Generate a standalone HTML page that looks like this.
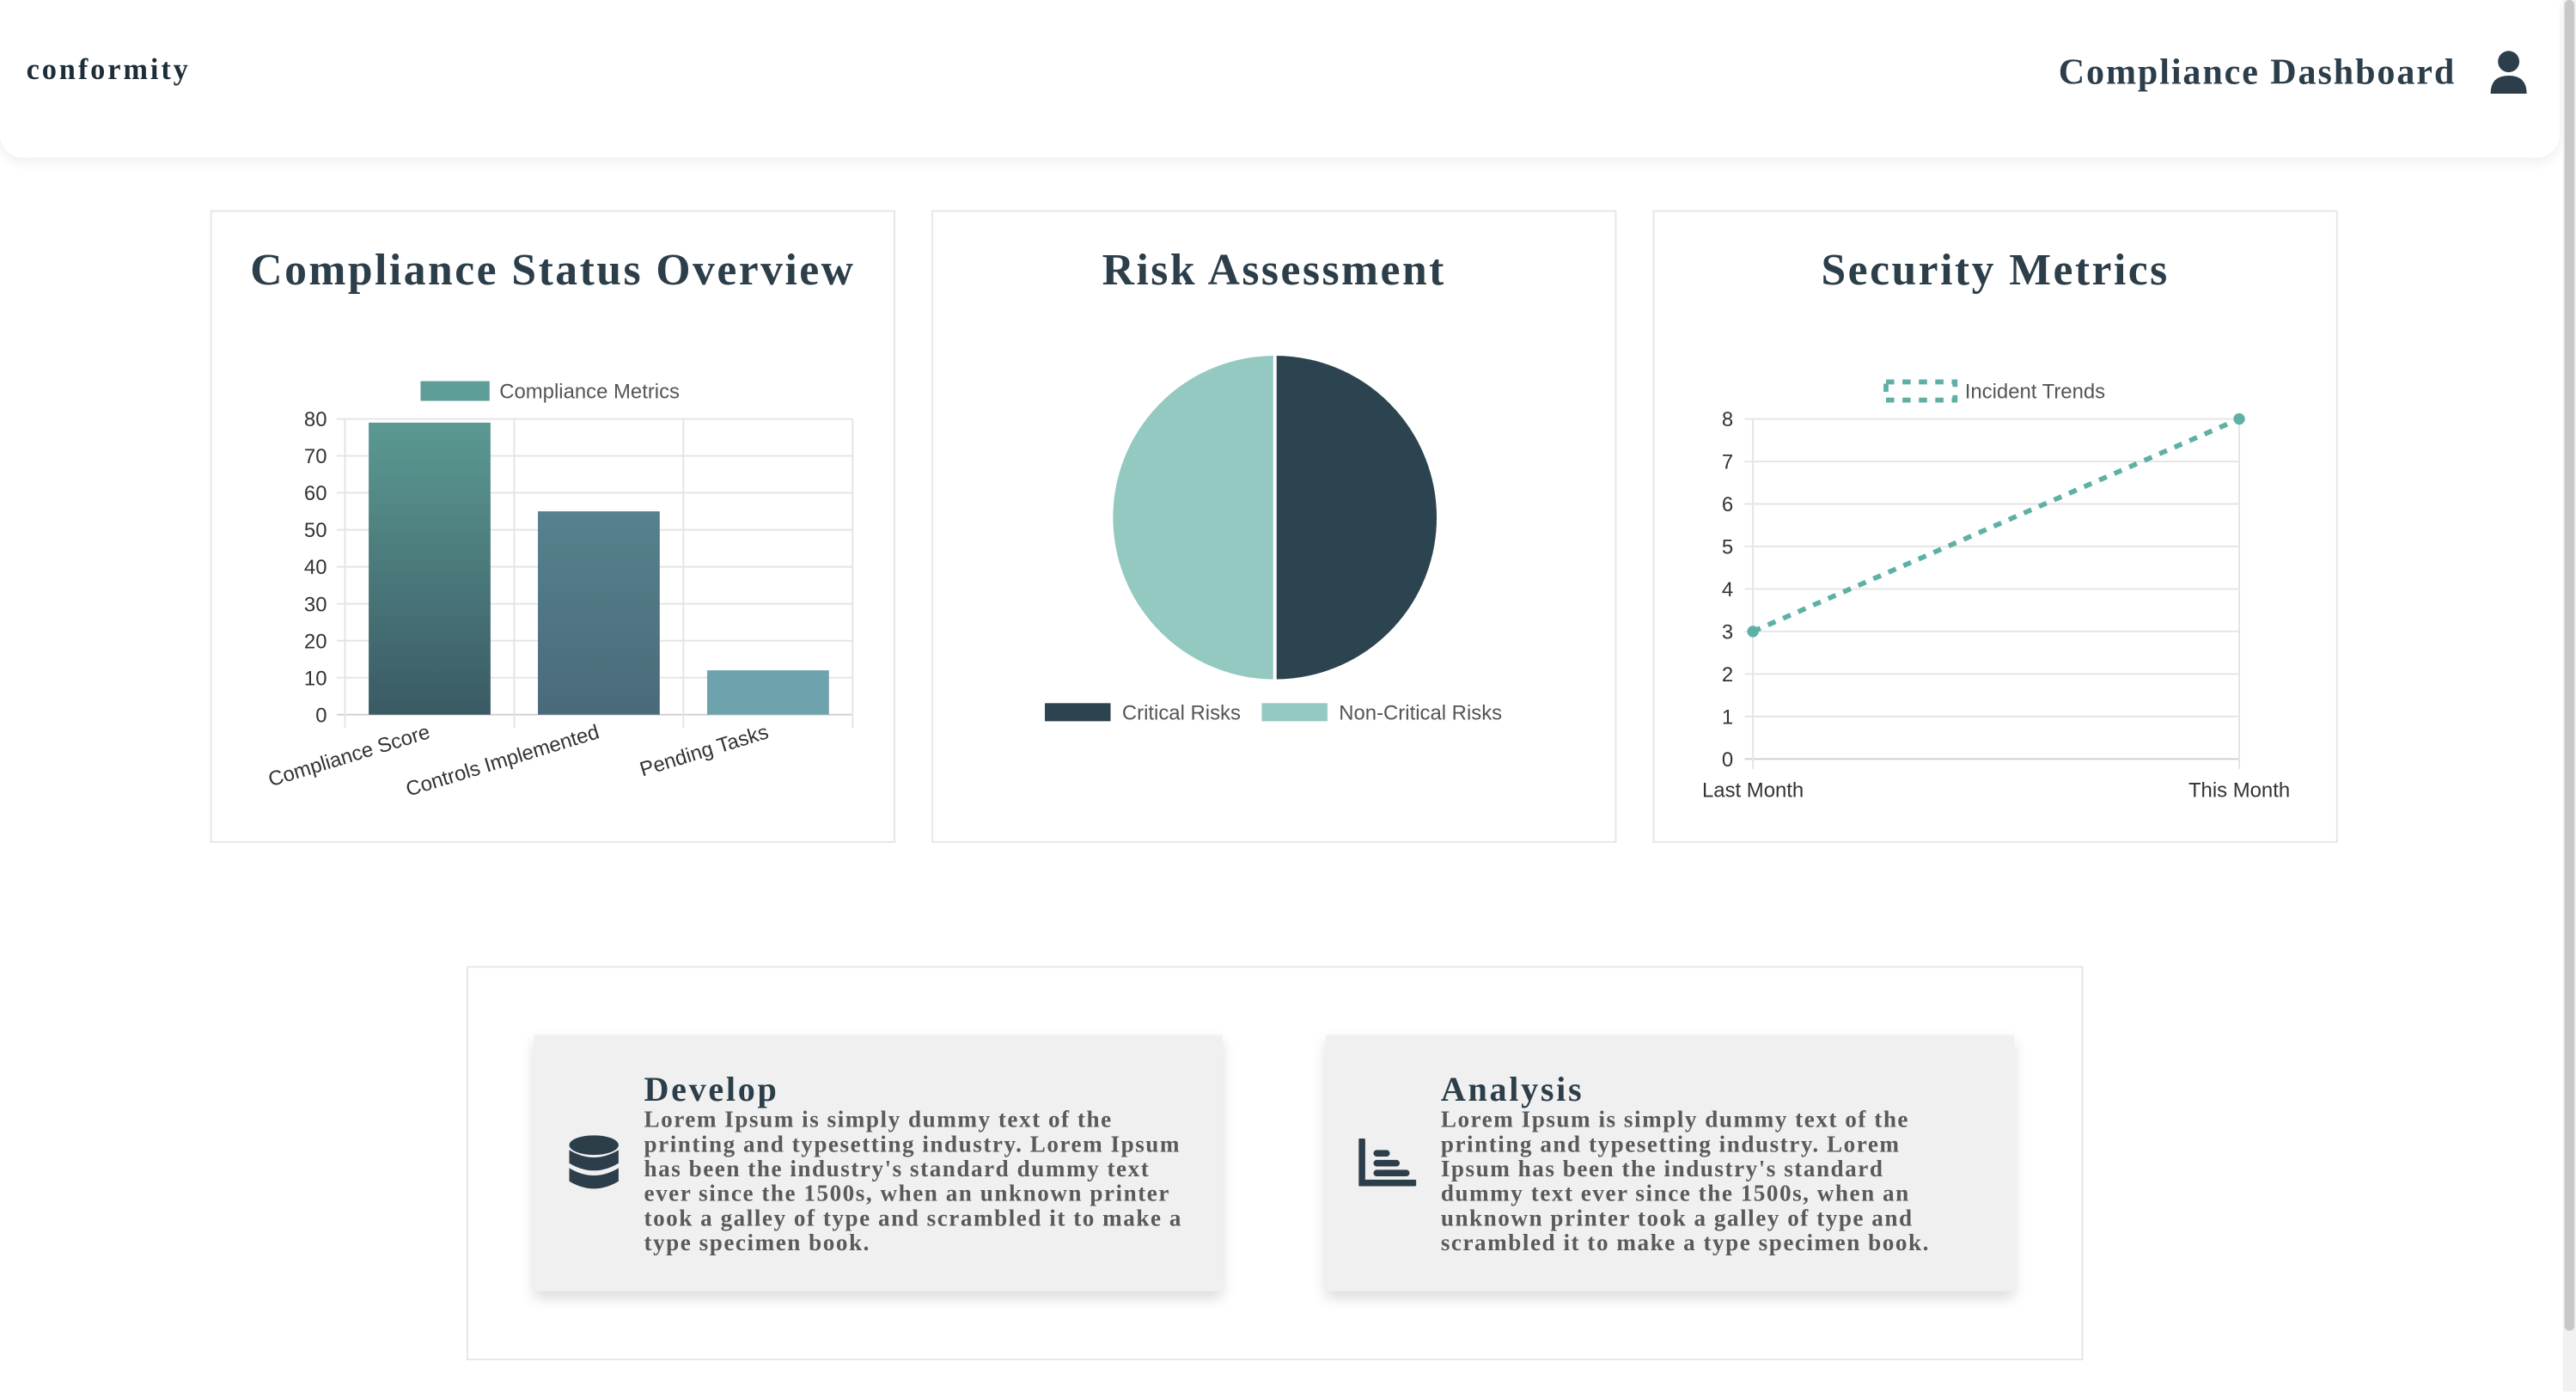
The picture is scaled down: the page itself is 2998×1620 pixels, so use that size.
<!DOCTYPE html>
<html><head><meta charset="utf-8">
<style>
html,body{margin:0;padding:0;background:#fff;overflow:hidden;}
body{width:2998px;height:1620px;position:relative;}
#root{position:absolute;left:0;top:0;width:1568px;height:847px;transform:scale(1.912);transform-origin:0 0;font-family:"Liberation Sans",sans-serif;}
.serif{font-family:"Liberation Serif",serif;font-weight:bold;}
#header{position:absolute;left:0;top:0;width:1558px;height:96px;background:#fff;border-radius:0 0 14px 14px;box-shadow:0 2px 8px rgba(0,0,0,0.08);}
.card{position:absolute;top:128px;width:417px;height:385px;border:1px solid #e6e6e6;box-sizing:border-box;background:#fff;}
.card h2{margin:0;position:absolute;left:-20px;right:-20px;text-align:center;font-size:27px;color:#2c3e4a;white-space:nowrap;top:20px;letter-spacing:1.3px;}
.scroll{position:absolute;left:1560px;top:0;width:8px;height:847px;background:#f1f1f1;}
.scroll div{position:absolute;left:1px;top:0;width:6px;height:810px;background:#c8c8c8;border-radius:3px;}
.feat{position:absolute;top:630px;width:419px;height:156px;background:#f0f0f0;box-shadow:0 4px 8px rgba(0,0,0,0.15);}
.feat h3{margin:0;position:absolute;left:67px;top:21px;font-size:21px;color:#2c3e4a;line-height:24px;letter-spacing:1.4px;}
.feat p{margin:0;position:absolute;left:67px;top:45px;font-size:14.2px;line-height:15.1px;color:#5a5a5a;white-space:nowrap;letter-spacing:0.8px;}
</style></head><body>
<div id="root">
<div id="header">
  <div class="serif" style="position:absolute;left:16px;top:32px;font-size:18px;color:#1e2e38;letter-spacing:1.5px;">conformity</div>
  <div class="serif" style="position:absolute;left:1253px;top:31px;font-size:22px;color:#2c3e4a;white-space:nowrap;letter-spacing:1px;">Compliance Dashboard</div>
  <svg style="position:absolute;left:1514px;top:30px" width="26" height="28" viewBox="0 0 26 28"><circle cx="13" cy="7.5" r="6.5" fill="#2c3e4a"/><path d="M2 27 Q2 16 13 16 Q24 16 24 27 Z" fill="#2c3e4a"/></svg>
</div>
<div class="scroll"><div></div></div>

<div class="card" style="left:128px">
  <h2 class="serif">Compliance Status Overview</h2>
</div>
<div class="card" style="left:567px">
  <h2 class="serif">Risk Assessment</h2>
</div>
<div class="card" style="left:1006px">
  <h2 class="serif">Security Metrics</h2>
</div>

<svg id="charts" width="1568" height="847" style="position:absolute;left:0;top:0" font-family="Liberation Sans, sans-serif">
  <defs>
    <linearGradient id="g1" x1="0" y1="0" x2="0" y2="1"><stop offset="0" stop-color="#5b9992"/><stop offset="1" stop-color="#3a5a64"/></linearGradient>
    <linearGradient id="g2" x1="0" y1="0" x2="0" y2="1"><stop offset="0" stop-color="#56818d"/><stop offset="1" stop-color="#4a6a7a"/></linearGradient>
  </defs>
  <g id="bar-chart"></g>
  <g id="pie-chart"></g>
  <g id="line-chart"></g>
</svg>

<div style="position:absolute;left:284px;top:588px;width:984px;height:240px;border:1px solid #e6e6e6;box-sizing:border-box;"></div>
<div class="feat" style="left:325px">
  <svg style="position:absolute;left:21px;top:61px" width="31" height="34" viewBox="0 0 31 34"><ellipse cx="15.5" cy="6" rx="15" ry="6" fill="#2c3e4a"/><path d="M0.5 9 Q15.5 18 30.5 9 V17 Q15.5 26 0.5 17Z" fill="#2c3e4a"/><path d="M0.5 20 Q15.5 29 30.5 20 V28 Q15.5 37 0.5 28Z" fill="#2c3e4a"/></svg>
  <h3 class="serif">Develop</h3>
  <p class="serif">Lorem Ipsum is simply dummy text of the<br>printing and typesetting industry. Lorem Ipsum<br>has been the industry's standard dummy text<br>ever since the 1500s, when an unknown printer<br>took a galley of type and scrambled it to make a<br>type specimen book.</p>
</div>
<div class="feat" style="left:807px">
  <svg style="position:absolute;left:20px;top:63px" width="35" height="30" viewBox="0 0 35 30"><path d="M2 1 V27 H34" stroke="#2c3e4a" stroke-width="4" fill="none" stroke-linecap="round"/><rect x="9" y="7" width="10" height="4" rx="2" fill="#2c3e4a"/><rect x="9" y="13" width="16" height="4" rx="2" fill="#2c3e4a"/><rect x="9" y="19" width="22" height="4" rx="2" fill="#2c3e4a"/></svg>
  <h3 class="serif" style="left:70px">Analysis</h3>
  <p class="serif" style="left:70px">Lorem Ipsum is simply dummy text of the<br>printing and typesetting industry. Lorem<br>Ipsum has been the industry's standard<br>dummy text ever since the 1500s, when an<br>unknown printer took a galley of type and<br>scrambled it to make a type specimen book.</p>
</div>
</div>

<script>
const barCategories = ["Compliance Score","Controls Implemented","Pending Tasks"];
const barValues = [79, 55, 12];
const barTicks = [0,10,20,30,40,50,60,70,80];
const pieLabels = ["Critical Risks","Non-Critical Risks"];
const pieValues = [50, 50];
const lineCategories = ["Last Month","This Month"];
const lineValues = [3, 8];
const lineTicks = [0,1,2,3,4,5,6,7,8];

const NS="http://www.w3.org/2000/svg";
function mk(parent,tag,attrs,text){const e=document.createElementNS(NS,tag);for(const k in attrs)e.setAttribute(k,attrs[k]);if(text!==undefined)e.textContent=text;parent.appendChild(e);return e;}

// Bar chart
(function(){
  const g=document.getElementById('bar-chart');
  const x0=210,x1=519,y0=435,y1=255,max=80;
  const y=v=>y0-(v/max)*(y0-y1);
  const bw=(x1-x0)/barCategories.length;
  barTicks.forEach(t=>{
    const l=mk(g,'line',{x1:x0-5,x2:x1,y1:y(t),y2:y(t),stroke:t===0?'#cfcfcf':'#e4e4e4','stroke-width':1});
    
    
    const tx=mk(g,'text',{x:x0-11,y:y(t)+4.5,'text-anchor':'end','font-size':12.5,fill:'#333'},t);
    
    
  });
  for(let i=0;i<=barCategories.length;i++){
    const gx=x0+i*bw;
    const l=mk(g,'line',{x1:gx,x2:gx,y1:y1,y2:y0+8,stroke:'#e4e4e4','stroke-width':1});
    
    
  }
  const fills=['url(#g1)','url(#g2)','#6ea3ad'];
  barValues.forEach((v,i)=>{
    const bx=x0+i*bw+bw*0.14;
    const r=mk(g,'rect',{x:bx,y:y(v),width:bw*0.72,height:y0-y(v),fill:fills[i%3]});
    
    
    const cx=x0+i*bw+bw/2;
    const tx=mk(g,'text',{x:cx+1,y:449,'text-anchor':'end','font-size':12.5,fill:'#333',transform:'rotate(-17 '+(cx+1)+' 449)'},barCategories[i]);
    
    
  });
  const lb=mk(g,'rect',{x:256,y:232,width:42,height:12,fill:'#5f9d98'});
  
  
  const lt=mk(g,'text',{x:304,y:242.5,'font-size':12.5,fill:'#555'},'Compliance Metrics');
  
  
})();

// Pie chart
(function(){
  const g=document.getElementById('pie-chart');
  const cx=776,cy=315,r=99.5;
  const colors=['#2c4350','#93c9c1'];
  const total=pieValues.reduce((a,b)=>a+b,0);
  let a=-Math.PI/2;
  pieValues.forEach((v,i)=>{
    const a2=a+v/total*2*Math.PI;
    const large=(a2-a)>Math.PI?1:0;
    const d=`M${cx},${cy} L${cx+r*Math.cos(a)},${cy+r*Math.sin(a)} A${r},${r} 0 ${large} 1 ${cx+r*Math.cos(a2)},${cy+r*Math.sin(a2)} Z`;
    const p=mk(g,'path',{d:d,fill:colors[i],stroke:'#fff','stroke-width':2});
    
    
    a=a2;
  });
  const lx=[636,768];
  pieLabels.forEach((lab,i)=>{
    const s=mk(g,'rect',{x:lx[i],y:428,width:40,height:11,fill:colors[i]});
    
    
    const t=mk(g,'text',{x:lx[i]+47,y:438,'font-size':12.5,fill:'#555'},lab);
    
    
  });
})();

// Line chart
(function(){
  const g=document.getElementById('line-chart');
  const x0=1067,x1=1363,y0=462,y1=255,max=8;
  const y=v=>y0-(v/max)*(y0-y1);
  const x=i=>x0+i*(x1-x0)/(lineCategories.length-1);
  lineTicks.forEach(t=>{
    const l=mk(g,'line',{x1:x0-5,x2:x1,y1:y(t),y2:y(t),stroke:t===0?'#cfcfcf':'#e4e4e4','stroke-width':1});
    
    
    const tx=mk(g,'text',{x:x0-12,y:y(t)+4.5,'text-anchor':'end','font-size':12.5,fill:'#333'},t);
    
    
  });
  lineCategories.forEach((c,i)=>{
    const l=mk(g,'line',{x1:x(i),x2:x(i),y1:y1,y2:y0+6,stroke:'#e4e4e4','stroke-width':1});
    
    
    const t=mk(g,'text',{x:x(i),y:485,'text-anchor':'middle','font-size':12.5,fill:'#333'},c);
    
    
  });
  const pts=lineValues.map((v,i)=>x(i)+','+y(v)).join(' ');
  const pl=mk(g,'polyline',{points:pts,fill:'none',stroke:'#5fb0a4','stroke-width':3,'stroke-dasharray':'5 5'});
  
  
  lineValues.forEach((v,i)=>{
    const c=mk(g,'circle',{cx:x(i),cy:y(v),r:3.5,fill:'#5fb0a4'});
    
    
  });
  const lb=mk(g,'rect',{x:1148,y:232.5,width:42,height:11,fill:'none',stroke:'#5fb0a4','stroke-width':3,'stroke-dasharray':'5 5'});
  
  
  const lt=mk(g,'text',{x:1196,y:242.5,'font-size':12.5,fill:'#555'},'Incident Trends');
  
  
})();
</script>
</body></html>
